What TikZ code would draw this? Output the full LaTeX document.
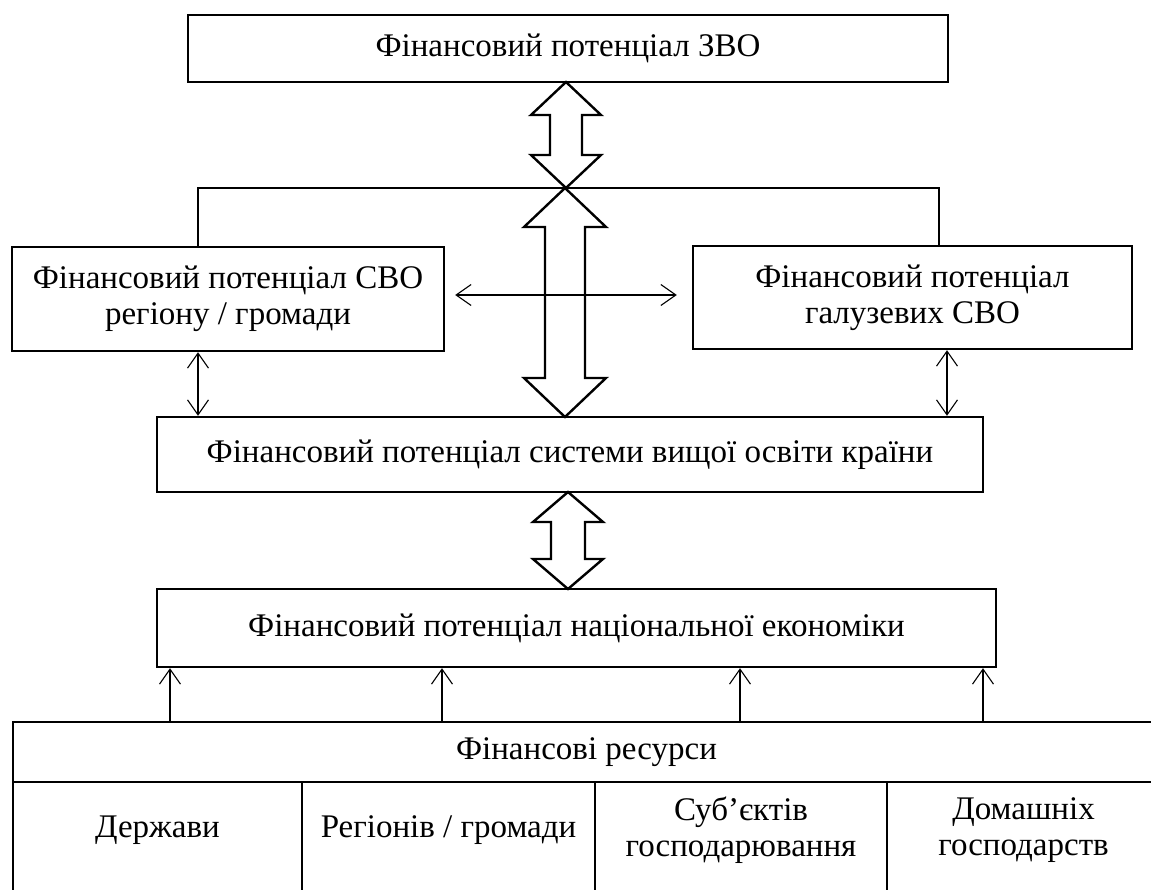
\documentclass[tikz,border=0pt]{standalone}
\usepackage{fontspec}
\setmainfont{Liberation Serif}
\usetikzlibrary{arrows.meta}

\begin{document}
\begin{tikzpicture}[x=1pt,y=-1pt,
  every node/.style={font=\fontsize{33}{36}\selectfont}]
\tikzstyle{box}=[draw,line width=2.4pt,inner sep=0pt,align=center]
\tikzstyle{cell}=[draw,line width=2.2pt,inner sep=0pt]
\tikzset{
  link/.style={line width=1.1pt},
  dblarr/.style={link,{Straight Barb[length=15pt,width=21pt]}-{Straight Barb[length=15pt,width=21pt]}},
  uparr/.style={link,-{Straight Barb[length=15pt,width=21pt]}},
  hollow/.style={line width=2.4pt,line join=miter},
  celltext/.style={align=center,yshift=11pt},
}
\useasboundingbox (0,0) rectangle (1151,890);
\clip (0,0) rectangle (1151,890);

% BOXES
\node[box,minimum width=760pt,minimum height=67pt] (zvo) at (568,48.5) {Фінансовий потенціал ЗВО};
\node[box,minimum width=432pt,minimum height=104pt] (reg) at (228,299) {Фінансовий потенціал СВО\\регіону / громади};
\node[box,minimum width=439pt,minimum height=103pt] (gal) at (912.5,297.5) {Фінансовий потенціал\\галузевих СВО};
\node[box,minimum width=826pt,minimum height=75pt] (svo) at (570,454.5) {Фінансовий потенціал системи вищої освіти країни};
\node[box,minimum width=839pt,minimum height=78pt] (nat) at (576.5,628) {Фінансовий потенціал національної економіки};

% RESOURCES TABLE
\node[cell,minimum width=1147pt,minimum height=60pt] (res) at (586.5,752) {Фінансові ресурси};
\node[cell,minimum width=289pt,minimum height=118pt,label={[celltext]center:Держави}] (st) at (157.5,841) {};
\node[cell,minimum width=293pt,minimum height=118pt,label={[celltext]center:Регіонів / громади}] (rg) at (448.5,841) {};
\node[cell,minimum width=292pt,minimum height=118pt,label={[celltext]center:Суб’єктів\\господарювання}] (sg) at (741,841) {};
\node[cell,minimum width=273pt,minimum height=118pt,label={[celltext]center:Домашніх\\господарств}] (dg) at (1023.5,841) {};

% CONNECTORS
\coordinate (jl) at (198,188);  % left corner of the bracket
\coordinate (jr) at (939,188);  % right corner of the bracket
\coordinate (h) at (566,295);   % level of the side arrow
\coordinate (al) at (198,380);  % left small arrow
\coordinate (ar) at (947,380);  % right small arrow
\draw[link] (reg.north -| jl) -- (jl) -- (jr) -- (gal.north -| jr);
\draw[dblarr,shorten <=10pt,shorten >=15pt] (reg.east |- h) -- (gal.west |- h);
\draw[dblarr] (reg.south -| al) -- (svo.north -| al);
\draw[dblarr] (gal.south -| ar) -- (svo.north -| ar);
\foreach \x in {170,442,740,983}{
  \coordinate (u) at (\x,700);
  \draw[uparr] (res.north -| u) -- (nat.south -| u);
}

% HOLLOW ARROWS
\foreach \x/\ya/\yb/\hw/\sw/\hl in {566/82/188/35/16/33,565/188/417/41/20/39,568/492/589/35/17/30}{
  \draw[hollow] (\x,\ya) -- (\x+\hw,\ya+\hl) -- (\x+\sw,\ya+\hl) -- (\x+\sw,\yb-\hl)
    -- (\x+\hw,\yb-\hl) -- (\x,\yb) -- (\x-\hw,\yb-\hl) -- (\x-\sw,\yb-\hl)
    -- (\x-\sw,\ya+\hl) -- (\x-\hw,\ya+\hl) -- cycle;
}
\end{tikzpicture}
\end{document}
